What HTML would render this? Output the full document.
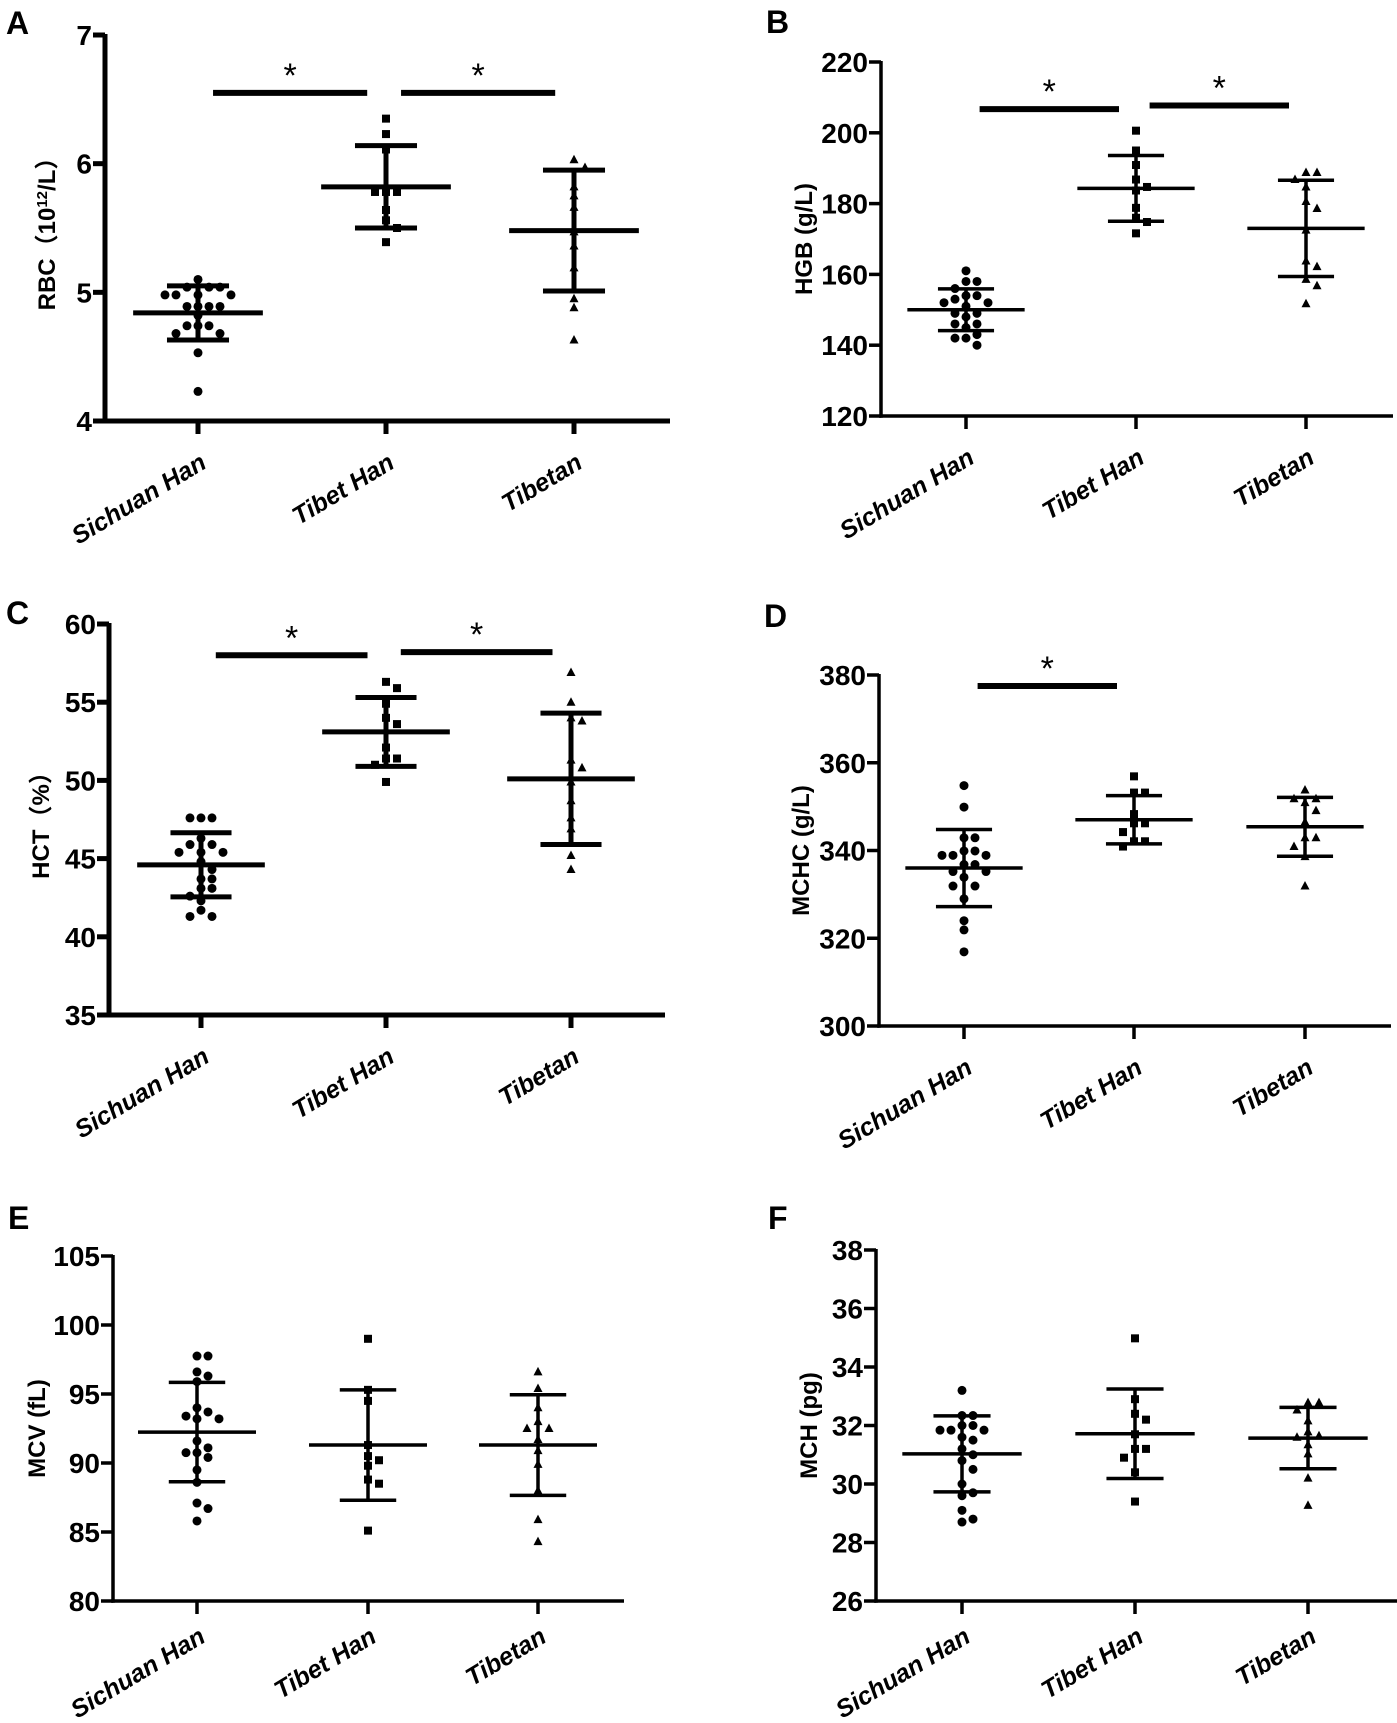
<!DOCTYPE html>
<html><head><meta charset="utf-8"><title>Hematological parameters</title>
<style>
html,body{margin:0;padding:0;background:#fff;}
svg{display:block;}
text{font-family:"Liberation Sans",Arial,"Noto Sans CJK SC",sans-serif;}
.tick{font-family:"Liberation Sans Narrow","Liberation Sans",Arial,sans-serif;}
</style></head>
<body>
<svg id="fig" width="1397" height="1723" viewBox="0 0 1397 1723" xmlns="http://www.w3.org/2000/svg"></svg>
<script>
// ---------- data ----------
const categories = ["Sichuan Han", "Tibet Han", "Tibetan"];

const rbcTicks = [4, 5, 6, 7];
const rbcMean = [4.84, 5.82, 5.48];
const rbcSD = [0.21, 0.32, 0.47];
const rbcSichuan = [5.10,5.04,5.04,5.04,4.98,4.98,4.98,4.98,4.89,4.89,4.89,4.89,4.82,4.74,4.74,4.74,4.68,4.68,4.53,4.23];
const rbcTibetHan = [6.35,6.23,6.11,5.78,5.78,5.78,5.64,5.56,5.50,5.39];
const rbcTibetan = [6.03,5.97,5.82,5.75,5.66,5.47,5.36,5.19,4.95,4.88,4.63];
const rbcSig = [[0,1,6.55],[1,2,6.55]];

const hgbTicks = [120, 140, 160, 180, 200, 220];
const hgbMean = [150, 184.3, 173];
const hgbSD = [5.9, 9.3, 13.6];
const hgbSichuan = [161,158,158,156,154,154,153,152,152,151,149,149,148,146,146,145,143,142,142,140];
const hgbTibetHan = [200.6,195,190.9,186.8,184.7,183.7,178.8,176,174.8,171.6];
const hgbTibetan = [188.8,188.8,186.8,184.7,180.6,178.6,172.5,163.8,162.2,158.6,156.8,151.7];
const hgbSig = [[0,1,206.7],[1,2,207.7]];

const hctTicks = [35, 40, 45, 50, 55, 60];
const hctMean = [44.6, 53.1, 50.1];
const hctSD = [2.05, 2.2, 4.2];
const hctSichuan = [47.6,47.6,47.6,46.3,45.9,45.9,45.4,45.4,45.4,44.8,44.3,43.7,43.7,43.1,43.1,42.6,42.3,41.7,41.3,41.3];
const hctTibetHan = [56.3,55.9,54.9,54.0,53.6,52.1,51.4,51.4,51.0,49.9];
const hctTibetan = [56.9,55.0,54.0,53.8,51.3,50.8,49.9,48.7,47.6,46.9,45.2,44.3];
const hctSig = [[0,1,58.0],[1,2,58.2]];

const mchcTicks = [300, 320, 340, 360, 380];
const mchcMean = [336, 347, 345.4];
const mchcSD = [8.8, 5.5, 6.7];
const mchcSichuan = [354.8,349.9,342.9,342.9,339.9,339.9,338.9,338.9,338.9,336.8,336.8,335.2,335.2,333.9,331.9,331.9,329,324,321.9,316.9];
const mchcTibetHan = [356.9,353.2,353.2,348.3,346.2,346.2,344.2,342.1,342.1,340.9];
const mchcTibetan = [353.8,351.8,351.8,350.9,349.1,346.5,342.9,342.9,340.9,338.6,331.9];
const mchcSig = [[0,1,377.5]];

const mcvTicks = [80, 85, 90, 95, 100, 105];
const mcvMean = [92.24, 91.3, 91.3];
const mcvSD = [3.6, 4.0, 3.65];
const mcvSichuan = [97.75,97.75,96.6,96.3,95.9,94.0,93.7,93.4,93.2,93.2,91.6,91.1,90.75,90.75,90.4,89.5,88.6,87.1,86.7,85.8];
const mcvTibetHan = [99.0,95.3,94.5,91.3,90.5,90.2,89.8,88.8,88.5,85.1];
const mcvTibetan = [96.6,95.4,94.0,93.0,92.5,92.5,91.7,90.9,89.9,88.0,85.9,84.3];
const mcvSig = [];

const mchTicks = [26, 28, 30, 32, 34, 36, 38];
const mchMean = [31.03, 31.72, 31.57];
const mchSD = [1.3, 1.53, 1.05];
const mchSichuan = [33.2,32.34,32.34,32.0,32.0,31.84,31.84,31.84,31.6,31.5,31.2,31.0,30.8,30.5,30.0,29.7,29.6,29.1,28.8,28.7];
const mchTibetHan = [34.98,32.9,32.4,32.2,31.7,31.2,31.2,30.9,30.4,29.4];
const mchTibetan = [32.78,32.78,32.53,32.16,31.78,31.65,31.6,31.34,31.03,30.2,29.27];
const mchSig = [];

// ---------- layout (not data) ----------
const panels = [
 {key:'rbc', letter:'A', lx:6, ly:34, ax:105, top:35, bot:421, xEnd:670, cats:[198,386,574], sw:5, tx:46, ld:46,
  title:['RBC（10','12','/L）'], ticks:rbcTicks, mean:rbcMean, sd:rbcSD, pts:[rbcSichuan,rbcTibetHan,rbcTibetan], sig:rbcSig},
 {key:'hgb', letter:'B', lx:766, ly:33, ax:881, top:62, bot:416, xEnd:1393, cats:[966,1136,1306], sw:3.5, tx:803, ld:46,
  title:['HGB (g/L)'], ticks:hgbTicks, mean:hgbMean, sd:hgbSD, pts:[hgbSichuan,hgbTibetHan,hgbTibetan], sig:hgbSig},
 {key:'hct', letter:'C', lx:6, ly:624, ax:109, top:624, bot:1015, xEnd:665, cats:[201,386,571], sw:5, tx:40, ld:46,
  title:['HCT（%）'], ticks:hctTicks, mean:hctMean, sd:hctSD, pts:[hctSichuan,hctTibetHan,hctTibetan], sig:hctSig},
 {key:'mchc', letter:'D', lx:764, ly:627, ax:879, top:675, bot:1026, xEnd:1391, cats:[964,1134,1305], sw:3.5, tx:800, ld:46,
  title:['MCHC (g/L)'], ticks:mchcTicks, mean:mchcMean, sd:mchcSD, pts:[mchcSichuan,mchcTibetHan,mchcTibetan], sig:mchcSig},
 {key:'mcv', letter:'E', lx:8, ly:1229, ax:113, top:1256, bot:1601, xEnd:624, cats:[197,368,538], sw:3.5, tx:36, ld:40,
  title:['MCV (fL)'], ticks:mcvTicks, mean:mcvMean, sd:mcvSD, pts:[mcvSichuan,mcvTibetHan,mcvTibetan], sig:mcvSig},
 {key:'mch', letter:'F', lx:768, ly:1229, ax:876, top:1250, bot:1601, xEnd:1397, cats:[962,1135,1308], sw:3.5, tx:808, ld:40,
  title:['MCH (pg)'], ticks:mchTicks, mean:mchMean, sd:mchSD, pts:[mchSichuan,mchTibetHan,mchTibetan], sig:mchSig}
];

const NS = 'http://www.w3.org/2000/svg';
const svg = document.getElementById('fig');
function mk(tag, attrs, parent){
  const e = document.createElementNS(NS, tag);
  for (const k in attrs) e.setAttribute(k, attrs[k]);
  parent.appendChild(e);
  return e;
}

function swarm(vals, cx, yf){
  const placed = [];
  const sorted = vals.slice().sort((a,b)=>b-a);
  const step = 11, minD = 9;
  sorted.forEach(v=>{
    const y = yf(v);
    const cand = [0, step, -step, 2*step, -2*step, 3*step, -3*step, 4*step, -4*step];
    let chosen = cand[cand.length-1];
    for (const c of cand){
      const ok = placed.every(p => Math.hypot(p.x-(cx+c), p.y-y) >= minD);
      if (ok){ chosen = c; break; }
    }
    placed.push({x:cx+chosen, y:y, v:v});
  });
  return placed;
}

panels.forEach(P=>{
  const g = mk('g', {}, svg);
  
  
  const tmin = P.ticks[0], tmax = P.ticks[P.ticks.length-1];
  const yf = v => P.bot - (v - tmin) / (tmax - tmin) * (P.bot - P.top);
  const sp = P.cats[1] - P.cats[0];

  const lab = mk('text', {x:P.lx, y:P.ly, 'font-size':32, 'font-weight':'bold'}, g);
  lab.textContent = P.letter;
  
  

  const ya = mk('line', {x1:P.ax, y1:P.top-1, x2:P.ax, y2:P.bot+P.sw/2, stroke:'#000', 'stroke-width':P.sw}, g);
  
  
  const xa = mk('line', {x1:P.ax-P.sw/2, y1:P.bot, x2:P.xEnd, y2:P.bot, stroke:'#000', 'stroke-width':P.sw}, g);
  
  

  P.ticks.forEach(t=>{
    const y = yf(t);
    const tk = mk('line', {x1:P.ax-12, y1:y, x2:P.ax, y2:y, stroke:'#000', 'stroke-width':P.sw}, g);
    
    
    const tl = mk('text', {x:P.ax-13, y:y+10, 'font-size':28, 'font-weight':'bold', 'text-anchor':'end', 'class':'tick'}, g);
    tl.textContent = t;
    
    
  });

  const cy = (P.top + P.bot) / 2;
  const tt = mk('text', {x:0, y:0, 'font-size':24, 'font-weight':'bold', 'text-anchor':'middle',
    transform:`translate(${P.tx+9},${cy}) rotate(-90)`}, g);
  
  
  if (P.title.length === 3){
    const a = mk('tspan', {}, tt); a.textContent = P.title[0];
    const b = mk('tspan', {'baseline-shift':'super', 'font-size':15}, tt); b.textContent = P.title[1];
    const c = mk('tspan', {}, tt); c.textContent = P.title[2];
  } else tt.textContent = P.title[0];

  categories.forEach((c,i)=>{
    const cx = P.cats[i];
    const tk = mk('line', {x1:cx, y1:P.bot, x2:cx, y2:P.bot+13, stroke:'#000', 'stroke-width':P.sw}, g);
    
    
    const tl = mk('text', {x:0, y:0, 'font-size':25, 'font-weight':'bold', 'font-style':'italic', 'text-anchor':'end',
      transform:`translate(${cx+10},${P.bot+P.ld}) rotate(-31)`}, g);
    tl.textContent = c;
    
    

    const pts = swarm(P.pts[i], cx, yf);
    pts.forEach(p=>{
      let m;
      if (i === 0) m = mk('circle', {cx:p.x, cy:p.y, r:4.5, fill:'#000'}, g);
      else if (i === 1) m = mk('rect', {x:p.x-4, y:p.y-4, width:8, height:8, fill:'#000'}, g);
      else m = mk('polygon', {points:`${p.x},${p.y-5} ${p.x+4.5},${p.y+3.5} ${p.x-4.5},${p.y+3.5}`, fill:'#000'}, g);
      
      
    });

    const mY = yf(P.mean[i]), hi = yf(P.mean[i] + P.sd[i]), lo = yf(P.mean[i] - P.sd[i]);
    const mh = sp * 0.345, ch = sp * 0.165;
    const ml = mk('line', {x1:cx-mh, y1:mY, x2:cx+mh, y2:mY, stroke:'#000', 'stroke-width':P.sw}, g);
    
    
    const vl = mk('line', {x1:cx, y1:hi, x2:cx, y2:lo, stroke:'#000', 'stroke-width':P.sw}, g);
    
    
    [hi, lo].forEach(y=>{
      const cp = mk('line', {x1:cx-ch, y1:y, x2:cx+ch, y2:y, stroke:'#000', 'stroke-width':P.sw}, g);
      
      
    });
  });

  P.sig.forEach(s=>{
    const x1 = P.cats[s[0]] + sp*0.08, x2 = P.cats[s[1]] - sp*0.1, y = yf(s[2]);
    const b = mk('line', {x1:x1, y1:y, x2:x2, y2:y, stroke:'#000', 'stroke-width':6}, g);
    
    
    const st = mk('text', {x:(x1+x2)/2, y:y-6, 'font-size':34, 'text-anchor':'middle'}, g);
    st.textContent = '*';
    
    
  });
});
</script>
</body></html>
